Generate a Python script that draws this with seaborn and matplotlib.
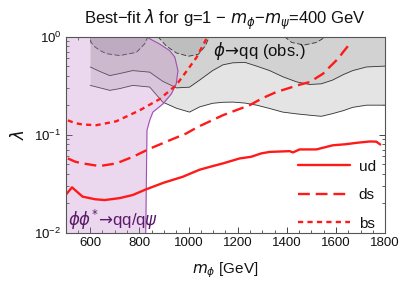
import seaborn as sns
import matplotlib
matplotlib.use('Agg')
import matplotlib.pyplot as plt
from matplotlib.ticker import MultipleLocator, LogLocator, NullFormatter

# best-fit lambda curves (red)
ud_x = [500, 526, 569, 620, 659, 720, 773, 828, 900, 977, 1045, 1100, 1140, 1208, 1255,
        1296, 1330, 1411, 1425, 1452, 1520, 1587, 1640, 1683, 1737, 1764, 1780]
ud_y = [0.0243, 0.0291, 0.0234, 0.0220, 0.0216, 0.0226, 0.0243, 0.0278, 0.0325, 0.0373,
        0.0440, 0.0480, 0.051, 0.0573, 0.0596, 0.0645, 0.0668, 0.068, 0.066, 0.0708,
        0.0708, 0.078, 0.080, 0.0826, 0.0853, 0.085, 0.0795]
ds_x = [509, 540, 570, 638, 706, 774, 842, 920, 991, 1038, 1090, 1140, 1200, 1249, 1300,
        1357, 1452, 1493, 1547, 1574, 1610, 1628, 1652]
ds_y = [0.0573, 0.053, 0.051, 0.0479, 0.051, 0.0596, 0.072, 0.087, 0.103, 0.12, 0.138,
        0.158, 0.18, 0.2, 0.235, 0.272, 0.323, 0.344, 0.418, 0.489, 0.6, 0.69, 0.82]
bs_x = [509, 540, 570, 625, 706, 801, 882, 950, 991, 1032, 1068, 1078]
bs_y = [0.14, 0.131, 0.127, 0.125, 0.137, 0.177, 0.23, 0.32, 0.44, 0.61, 0.9, 1.0]

# phi -> qq observed exclusion (gray bands)
gray_x = [600, 640, 680, 720, 773, 842, 895, 951, 1004, 1045, 1098, 1140, 1180, 1230,
          1277, 1330, 1383, 1440, 1493, 1540, 1586, 1630, 1668, 1724, 1800]
low_y = [0.318, 0.30, 0.283, 0.295, 0.318, 0.306, 0.215, 0.186, 0.17, 0.192, 0.209,
         0.214, 0.215, 0.21, 0.2, 0.185, 0.17, 0.163, 0.158, 0.154, 0.164, 0.176, 0.19,
         0.2, 0.2]
mid_y = [0.49, 0.44, 0.40, 0.42, 0.45, 0.434, 0.35, 0.30, 0.305, 0.36, 0.45, 0.515,
         0.54, 0.545, 0.50, 0.45, 0.39, 0.345, 0.325, 0.33, 0.36, 0.41, 0.45, 0.49, 0.5]
dark1_x = [600, 612, 640, 665, 720, 788, 821, 835]
dark1_y = [0.92, 0.81, 0.72, 0.67, 0.64, 0.69, 0.84, 1.0]
dark2_x = [875, 910, 951, 1000, 1040, 1068, 1085]
dark2_y = [1.0, 0.80, 0.68, 0.63, 0.66, 0.8, 1.0]
dark3_x = [1390, 1420, 1470, 1520, 1560]
dark3_y = [1.0, 0.87, 0.82, 0.87, 1.0]

# phi phi* -> qq / q psi exclusion (purple)
pur_y = [0.01, 0.111, 0.14, 0.17, 0.206, 0.26, 0.33, 0.45, 0.62, 0.72, 0.84, 0.95, 1.0]
pur_x = [826, 831, 842, 855, 896, 930, 950, 957, 944, 923, 882, 842, 828]

sns.set_style('ticks')
plt.rcParams['font.family'] = ['Liberation Sans', 'DejaVu Sans']
plt.rcParams['mathtext.fontset'] = 'dejavusans'
plt.rcParams['text.color'] = '#111111'
plt.rcParams['axes.labelcolor'] = '#111111'
plt.rcParams['xtick.labelcolor'] = '#111111'
plt.rcParams['ytick.labelcolor'] = '#111111'

fig = plt.figure(figsize=(4.05, 2.9), dpi=100)
ax = fig.add_axes([0.162, 0.197, 0.789, 0.677])

# gray bands
ax.fill_between(gray_x, low_y, 1, color='#e4e4e4', lw=0, zorder=1)
ax.fill_between(gray_x, mid_y, 1, color='#d2d2d2', lw=0, zorder=1)
for dx, dy in [(dark1_x, dark1_y), (dark2_x, dark2_y), (dark3_x, dark3_y)]:
    ax.fill_between(dx, dy, 1, color='#bebebe', lw=0, zorder=1)
    ax.plot(dx, dy, color='#333333', lw=0.6, ls=(0, (6, 3)), zorder=2)
ax.plot(gray_x, low_y, color='#333333', lw=0.6, zorder=2)
ax.plot(gray_x, mid_y, color='#333333', lw=0.6, zorder=2)

# purple band
ax.fill_betweenx(pur_y, 500, pur_x, color='#c080c8', alpha=0.3, lw=0, zorder=3)
ax.plot(pur_x, pur_y, color='#a050b0', lw=0.8, zorder=3)

red = '#ff1a1a'
sns.lineplot(x=ud_x, y=ud_y, ax=ax, color=red, lw=1.7, label='ud', zorder=5)
sns.lineplot(x=ds_x, y=ds_y, ax=ax, color=red, lw=1.7, ls=(0, (5, 2.5)), label='ds', zorder=5)
sns.lineplot(x=bs_x, y=bs_y, ax=ax, color=red, lw=1.7, ls=(0, (2.2, 1.8)), label='bs', zorder=5)

ax.set_yscale('log')
ax.set_xlim(500, 1800)
ax.set_ylim(0.01, 1)
ax.xaxis.set_major_locator(MultipleLocator(200))
ax.xaxis.set_minor_locator(MultipleLocator(50))
ax.yaxis.set_major_locator(LogLocator(base=10, numticks=5))
ax.yaxis.set_minor_locator(LogLocator(base=10, subs=range(2, 10), numticks=20))
ax.yaxis.set_minor_formatter(NullFormatter())
ax.tick_params(which='both', direction='in', top=True, right=True, color='#444444',
               labelsize=9.5, pad=3)
ax.tick_params(which='major', length=4, width=0.7)
ax.tick_params(which='minor', length=2, width=0.6)
for s in ax.spines.values():
    s.set_color('#555555')
    s.set_linewidth(0.8)
    s.set_zorder(6)

ax.text(1098, 0.72, r'$\phi\!\rightarrow\!$qq (obs.)', fontsize=12, va='center', ha='left',
        zorder=6)
ax.text(508, 0.0135, r'$\phi\phi^{*}\!\rightarrow\!$qq/q$\psi$', fontsize=12,
        color='#5a1a6a', va='center', ha='left', zorder=6)

ax.set_title(r'Best−fit $\lambda$ for g=1 − $m_\phi$−$m_\psi$=400 GeV', fontsize=12, pad=9)
ax.set_xlabel(r'$m_\phi$ [GeV]', fontsize=11, labelpad=8)
ax.set_ylabel(r'$\lambda$', fontsize=12, labelpad=5)

leg = ax.legend(loc='lower right', frameon=False, handlelength=3.4, labelspacing=0.95,
                fontsize=11, borderaxespad=0.2, handletextpad=0.6,
                bbox_to_anchor=(1.0, -0.035))

fig.savefig('out.png', dpi=100)
